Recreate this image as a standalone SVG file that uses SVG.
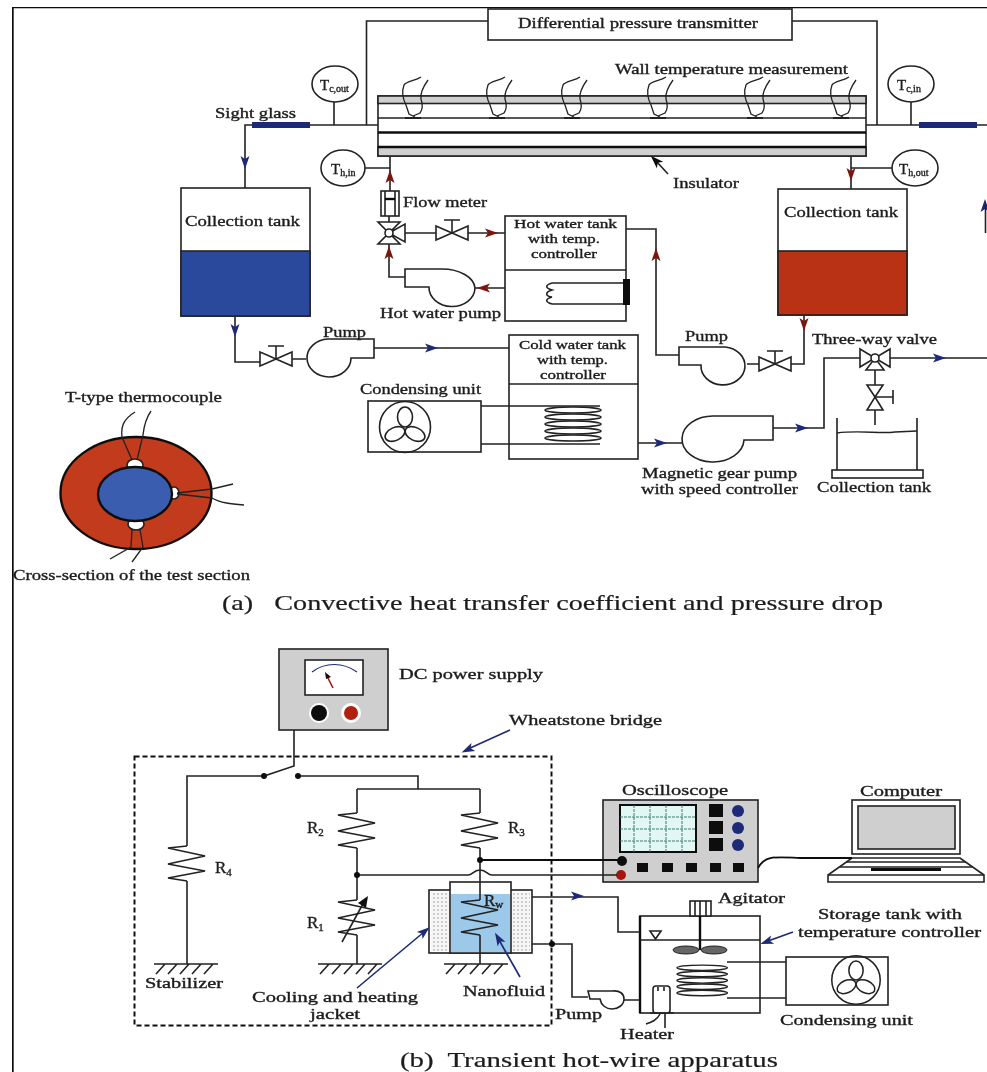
<svg xmlns="http://www.w3.org/2000/svg" width="987" height="1072" viewBox="0 0 987 1072">
<style>
text{font-family:"Liberation Serif","Times New Roman",serif;font-size:15px;fill:#1c1c1c;stroke:#1c1c1c;stroke-width:.35}
.cap{font-size:21px;stroke-width:.2}
.sm{font-size:13.5px}
.sub{font-size:10px}
.rl{font-size:17px}
.rs{font-size:11px}
.l{fill:none;stroke:#222;stroke-width:1.6}
.t{fill:none;stroke:#111;stroke-width:2.4}
.b{fill:#fff;stroke:#222;stroke-width:1.6}
.tt{fill:none;stroke:#222;stroke-width:1.3}
.gray{fill:#cfcfcf;stroke:#222;stroke-width:1.6}
.blue{fill:#2b4a9c}.red{fill:#a5180f}.nv{fill:#1c2a78}.dk{fill:#111}
.ha{fill:#7a1410}.ba{fill:#1c2a78}
</style>
<defs>
<filter id="soft" x="0" y="0" width="100%" height="100%"><feGaussianBlur stdDeviation="0.45"/></filter>
<pattern id="dots" width="4" height="4" patternUnits="userSpaceOnUse"><rect width="4" height="4" fill="#f6f6f6"/><circle cx="2" cy="2" r=".8" fill="#999"/></pattern>
<path id="ah" d="M-7,-4.500 L6,0 L-7,4.500 L-4,0Z"/>
<g id="valve" class="l"><path class="b" d="M-16,-7 L0,0 L-16,7Z M16,-7 L0,0 L16,7Z"/><path d="M0,0 V-13 M-8,-13 H8"/></g>
<g id="fan" class="l"><circle r="25.500"/><ellipse cy="-10" rx="7.500" ry="10"/><ellipse cx="-10" cy="7" rx="10.500" ry="6.500" transform="rotate(-25 -10 7)"/><ellipse cx="10" cy="7" rx="10.500" ry="6.500" transform="rotate(25 10 7)"/></g>
<path id="zig" class="l" d="M0,0 L-19,2 L18,10 L-19,18 L18,25 L-19,32 L0,35"/>
<g id="gnd" class="tt"><path stroke-width="1.600" d="M-32,0 H32 M-30,10 L-21,0 M-18,10 L-9,0 M-6,10 L3,0 M6,10 L15,0 M18,10 L27,0"/></g>
<g id="tc" class="tt"><path d="M8,-40 C2,-36 -6,-36 -9,-32 C-12,-24 -10,-18 -7,-12 L-4,-3 L2,0 M15,-37 C10,-30 7,-24 8,-18 C10,-12 10,-8 7,-4 L0,-1"/><path d="M-8,1 H8" stroke-width="2"/></g>
<g id="coil" class="l" stroke-width="1.300"><ellipse cx="28" cy="2" rx="28" ry="3"/><ellipse cx="28" cy="9" rx="28" ry="3"/><ellipse cx="28" cy="16" rx="28" ry="3"/><ellipse cx="28" cy="23" rx="28" ry="3"/><ellipse cx="28" cy="30" rx="28" ry="3"/></g>
</defs>
<rect width="987" height="1072" fill="#fff"/>
<g filter="url(#soft)">
<path id="frame" d="M12,7 H987 M12.500,7 V1072" fill="none" stroke="#111" stroke-width="2.400"/>

<g id="diff-transmitter"><rect class="b" x="488" y="9" width="304" height="31"/><text x="518" y="28" textLength="240" lengthAdjust="spacingAndGlyphs">Differential pressure transmitter</text></g>

<g id="test-section">
<rect class="b" x="378" y="96" width="488" height="60"/>
<rect class="gray" x="378" y="96" width="488" height="7.500"/>
<rect class="gray" x="378" y="147" width="488" height="9"/>
<path class="l" d="M378,118 H866"/><path class="t" d="M378,132.500 H866 M378,147 H866"/>
<use href="#tc" transform="translate(413,117)"/><use href="#tc" transform="translate(497,117)"/><use href="#tc" transform="translate(572,117)"/><use href="#tc" transform="translate(658,117)"/><use href="#tc" transform="translate(755,117)"/><use href="#tc" transform="translate(841,117)"/>
<text x="615" y="74" textLength="233" lengthAdjust="spacingAndGlyphs">Wall temperature measurement</text>
<text x="673" y="188" textLength="66" lengthAdjust="spacingAndGlyphs">Insulator</text>
</g>

<g id="sight-glass-1"><rect class="nv" x="252" y="122" width="58" height="6"/><text x="215" y="118" textLength="81" lengthAdjust="spacingAndGlyphs">Sight glass</text></g>
<g id="sight-glass-2"><rect class="nv" x="919" y="122" width="58" height="6"/></g>

<g id="t-c-out"><ellipse class="b" cx="335" cy="84" rx="23" ry="18"/><text x="320" y="90">T<tspan class="sub" dy="2">c,out</tspan></text></g>
<g id="t-c-in"><ellipse class="b" cx="911" cy="84" rx="23" ry="18"/><text x="897" y="90">T<tspan class="sub" dy="2">c,in</tspan></text></g>
<g id="t-h-in"><ellipse class="b" cx="343" cy="168" rx="22" ry="18"/><text x="331" y="174">T<tspan class="sub" dy="2">h,in</tspan></text></g>
<g id="t-h-out"><ellipse class="b" cx="915" cy="168" rx="23" ry="18"/><text x="899" y="174">T<tspan class="sub" dy="2">h,out</tspan></text></g>

<g id="tank-left"><rect class="b" x="181" y="188" width="129" height="128"/><rect class="blue" x="181" y="251" width="129" height="65" stroke="#222" stroke-width="1.600"/><text x="185" y="226" textLength="115" lengthAdjust="spacingAndGlyphs">Collection tank</text></g>
<g id="tank-right"><rect class="b" x="778" y="189" width="129" height="126"/><rect fill="#b93116" x="778" y="251" width="129" height="64" stroke="#222" stroke-width="1.600"/><text x="784" y="217" textLength="114" lengthAdjust="spacingAndGlyphs">Collection tank</text></g>

<g id="flow-meter"><rect class="b" x="381" y="191" width="18" height="25"/><path class="l" d="M385,191 V216 M395,191 V216"/><path class="t" d="M385,199 H395"/><text x="403" y="207" textLength="84" lengthAdjust="spacingAndGlyphs">Flow meter</text></g>
<g id="three-way-hot"><path class="b" d="M378,222 H400 L389,233Z M378,244 H400 L389,233Z M405,224 V242 L389,233Z"/><circle class="b" cx="389" cy="233" r="4"/></g>
<use id="valve-hot" href="#valve" transform="translate(452,233)"/>
<g id="hot-tank"><rect class="b" x="505" y="216" width="121" height="105"/><path class="l" d="M505,270 H626"/><path class="l" d="M552,283 H624 M552,304 H624 M552,283 C545,285 545,288 552,290 C545,292 545,296 552,297 C545,299 545,302 552,304"/><rect class="dk" x="623" y="279" width="7" height="26"/><text class="sm" x="514" y="228" textLength="103" lengthAdjust="spacingAndGlyphs">Hot water tank</text><text class="sm" x="528" y="243" textLength="72" lengthAdjust="spacingAndGlyphs">with temp.</text><text class="sm" x="531" y="258" textLength="66" lengthAdjust="spacingAndGlyphs">controller</text></g>
<g id="hot-pump"><path class="b" d="M405,269 H442 A33,20 0 0 1 475,288 A23,19 0 0 1 429,287 H405Z"/><text x="380" y="318" textLength="121" lengthAdjust="spacingAndGlyphs">Hot water pump</text></g>

<use id="valve-cold" href="#valve" transform="translate(276,359)"/>
<g id="pump-left"><path class="b" d="M374,339 V358 H351 A22,19 0 1 1 328,339Z"/><text x="323" y="337" textLength="43" lengthAdjust="spacingAndGlyphs">Pump</text></g>
<g id="condensing-1"><rect class="b" x="368" y="401" width="113" height="51"/><use href="#fan" transform="translate(405,427)"/><text x="360" y="394" textLength="121" lengthAdjust="spacingAndGlyphs">Condensing unit</text></g>
<g id="cold-tank"><rect class="b" x="509" y="335" width="129" height="124"/><path class="l" d="M509,384 H638"/><use href="#coil" transform="translate(545,408)"/><text class="sm" x="519" y="349" textLength="107" lengthAdjust="spacingAndGlyphs">Cold water tank</text><text class="sm" x="537" y="364" textLength="71" lengthAdjust="spacingAndGlyphs">with temp.</text><text class="sm" x="540" y="379" textLength="66" lengthAdjust="spacingAndGlyphs">controller</text></g>
<g id="pump-right"><path class="b" d="M679,347 H725 A22,19 0 1 1 701,365 H679Z"/><text x="685" y="341" textLength="43" lengthAdjust="spacingAndGlyphs">Pump</text></g>
<use id="valve-right" href="#valve" transform="translate(775,364)"/>
<g id="mag-pump"><path class="b" d="M773,416 V440 H744 A31,23 0 1 1 714,416Z"/><text x="642" y="478" textLength="155" lengthAdjust="spacingAndGlyphs">Magnetic gear pump</text><text x="641" y="494" textLength="157" lengthAdjust="spacingAndGlyphs">with speed controller</text></g>
<g id="three-way-out"><path class="b" d="M860,349 L875,358 L860,367Z M890,349 L875,358 L890,367Z M866,370 H884 L875,358Z"/><circle class="b" cx="875" cy="358" r="4"/><text x="812" y="344" textLength="125" lengthAdjust="spacingAndGlyphs">Three-way valve</text></g>
<g id="valve-drain"><path class="b" d="M867,385 H883 L875,397Z M867,410 H883 L875,397Z"/><path class="l" d="M875,397 H893 M893,390 V404"/></g>
<g id="beaker"><path class="l" d="M837,418 V470 M917,418 V470"/><path class="tt" d="M837,433 C860,430 880,434 895,432 L917,431"/><rect class="b" x="832" y="470" width="91" height="8"/><text x="817" y="492" textLength="114" lengthAdjust="spacingAndGlyphs">Collection tank</text></g>

<g id="cross-section">
<ellipse cx="136" cy="493" rx="75.500" ry="56" fill="#c23a1a" stroke="#111" stroke-width="2.400"/>
<ellipse class="b" cx="135" cy="465" rx="8" ry="6"/><ellipse class="b" cx="136" cy="524" rx="8" ry="6"/><ellipse class="b" cx="174" cy="493" rx="5" ry="6"/>
<ellipse cx="135" cy="494" rx="37" ry="27" fill="#3a5db0" stroke="#111" stroke-width="2.400"/>
<path class="tt" d="M132,460 L122,437 C121,428 122,420 135,412 M137,460 L143,435 C144,426 146,418 151,411 M177,493 L212,489 L233,484 M177,494 L212,498 C220,503 232,504 244,505 M132,530 L131,547 L110,559 M140,530 L143,547 L132,562"/>
<text x="65" y="402" textLength="157" lengthAdjust="spacingAndGlyphs">T-type thermocouple</text>
<text x="13" y="580" textLength="237" lengthAdjust="spacingAndGlyphs">Cross-section of the test section</text>
</g>
<text id="caption-a" class="cap" x="222" y="610" textLength="661" lengthAdjust="spacingAndGlyphs" xml:space="preserve">(a)   Convective heat transfer coefficient and pressure drop</text>

<g id="dc-supply"><rect class="gray" x="279" y="649" width="109" height="81"/><rect class="b" x="305" y="660" width="58" height="35"/><path d="M312,672 C325,662 343,662 357,672" fill="none" stroke="#1c2a78" stroke-width="1.200"/><path d="M333,688 L327,676" stroke="#a5180f" stroke-width="1.600"/><path class="dk" d="M325,672 L331,677 L326,679Z"/><circle cx="319" cy="713" r="10" fill="#fff"/><circle class="dk" cx="319" cy="713" r="8"/><circle cx="351" cy="713" r="10" fill="#fff"/><circle fill="#b0200f" cx="351" cy="713" r="7"/><text x="399" y="679" textLength="144" lengthAdjust="spacingAndGlyphs">DC power supply</text></g>

<g id="wheatstone-bridge"><rect x="134.500" y="756.500" width="417" height="269" fill="none" stroke="#111" stroke-width="2" stroke-dasharray="5 3"/><text x="509" y="725" textLength="153" lengthAdjust="spacingAndGlyphs">Wheatstone bridge</text></g>

<g id="r4"><use href="#zig" transform="translate(187,846)"/><text class="rl" x="215" y="873">R<tspan class="rs" dy="3">4</tspan></text></g>
<g id="r2"><use href="#zig" transform="translate(357,813)"/><text class="rl" x="307" y="833">R<tspan class="rs" dy="3">2</tspan></text></g>
<g id="r3"><use href="#zig" transform="translate(480,813)"/><text class="rl" x="508" y="833">R<tspan class="rs" dy="3">3</tspan></text></g>
<g id="r1"><use href="#zig" transform="translate(357,900)"/><path class="l" d="M342,942 L364,902"/><path class="dk" d="M368,896 L366,908 L358,903Z"/><text class="rl" x="307" y="928">R<tspan class="rs" dy="3">1</tspan></text></g>
<use id="gnd-1" href="#gnd" transform="translate(186,964)"/><use id="gnd-2" href="#gnd" transform="translate(350,964)"/><use id="gnd-3" href="#gnd" transform="translate(476,964)"/>
<text id="stabilizer" x="145" y="988" textLength="78" lengthAdjust="spacingAndGlyphs">Stabilizer</text>
<g id="cooling-label"><text x="252" y="1002" textLength="166" lengthAdjust="spacingAndGlyphs">Cooling and heating</text><text x="310" y="1019" textLength="50" lengthAdjust="spacingAndGlyphs">jacket</text></g>
<g id="hot-wire-cell"><rect class="b" x="429" y="890" width="103" height="63"/><rect x="431" y="892" width="18" height="59" fill="url(#dots)"/><rect x="512" y="892" width="18" height="59" fill="url(#dots)"/><rect class="b" x="450" y="882" width="61" height="71"/><rect x="451" y="894" width="59" height="58" fill="#9cc8ea"/><path class="l" d="M480,882 V900 M480,935 V953"/><use href="#zig" transform="translate(480,900)"/><text class="rl" x="484" y="906">R<tspan class="rs" dy="2">w</tspan></text></g>
<text id="nanofluid" x="463" y="996" textLength="82" lengthAdjust="spacingAndGlyphs">Nanofluid</text>

<g id="oscilloscope"><rect class="gray" x="603" y="800" width="155" height="82"/><rect x="620" y="805" width="76" height="47" fill="#e2f6f3" stroke="#111" stroke-width="2"/><path d="M634,805 V852 M650,805 V852 M666,805 V852 M682,805 V852 M620,817 H696 M620,829 H696 M620,841 H696" stroke="#2f6f66" stroke-width=".9" stroke-dasharray="3 1"/>
<g class="dk"><rect x="709" y="804" width="14" height="13"/><rect x="709" y="821" width="14" height="13"/><rect x="709" y="838" width="14" height="13"/><rect x="637" y="863" width="11" height="9"/><rect x="662" y="863" width="11" height="9"/><rect x="686" y="863" width="11" height="9"/><rect x="710" y="863" width="11" height="9"/><rect x="733" y="863" width="11" height="9"/><circle cx="622" cy="861" r="5"/></g>
<g class="nv"><circle cx="738" cy="811" r="6"/><circle cx="738" cy="828" r="6"/><circle cx="738" cy="845" r="6"/></g><circle cx="621" cy="875" r="5" class="red"/><text x="622" y="795" textLength="106" lengthAdjust="spacingAndGlyphs">Oscilloscope</text></g>

<g id="computer"><rect class="b" x="852" y="800" width="108" height="54"/><rect class="gray" x="858" y="806" width="97" height="43"/><path class="b" d="M852,858 H960 L984,875 V882 H828 V875Z"/><path class="l" d="M828,875 H984 M846,862 H966 M840,867 H972"/><rect class="dk" x="871" y="868" width="70" height="3"/><text x="860" y="796" textLength="82" lengthAdjust="spacingAndGlyphs">Computer</text></g>

<g id="storage-tank"><rect class="b" x="640" y="916" width="120" height="97"/><path class="t" d="M640,916 V1013"/><path class="l" d="M640,940 H760"/><path class="b" d="M650,931 H661 L655.500,939Z"/>
<rect class="b" x="690" y="901" width="21" height="15"/><path class="l" d="M695,901 V916 M700,901 V916 M706,901 V916"/><path class="t" d="M700,916 V950"/><ellipse cx="686" cy="950" rx="13" ry="4" fill="#666" stroke="#222"/><ellipse cx="714" cy="950" rx="13" ry="4" fill="#666" stroke="#222"/>
<use href="#coil" transform="translate(677,966) scale(.9 .9)"/>
<rect class="b" x="653" y="986" width="17" height="27" rx="3"/><path class="l" d="M658,987 V991 M664,987 V991 M650,1013 H674 M660,1014 C657,1020 652,1022 646,1024 M665,1014 V1028"/>
<text x="718" y="903" textLength="67" lengthAdjust="spacingAndGlyphs">Agitator</text><text x="818" y="919" textLength="144" lengthAdjust="spacingAndGlyphs">Storage tank with</text><text x="798" y="937" textLength="183" lengthAdjust="spacingAndGlyphs">temperature controller</text><text x="620" y="1039" textLength="54" lengthAdjust="spacingAndGlyphs">Heater</text></g>

<g id="pump-b"><path class="b" d="M588,991 H612 C620,990 624,994 624,999 C624,1005 618,1009 612,1009 C606,1009 601,1005 600,999 H590Z"/><text x="555" y="1019" textLength="47" lengthAdjust="spacingAndGlyphs">Pump</text></g>
<g id="condensing-2"><rect class="b" x="786" y="957" width="102" height="48"/><use href="#fan" transform="translate(856,980) scale(.95)"/><text x="780" y="1025" textLength="133" lengthAdjust="spacingAndGlyphs">Condensing unit</text></g>
<text id="caption-b" class="cap" x="400" y="1067" textLength="378" lengthAdjust="spacingAndGlyphs" xml:space="preserve">(b)  Transient hot-wire apparatus</text>

<g id="connectors">
<path class="l" d="M488,21 H366.500 V125 M792,21 H877 V125"/>
<path class="l" d="M378,125 H310 M252,125 H245 V188 M334,102 V125 M866,125 H919 M977,125 H987 M911,102 V125"/>
<path class="l" d="M390,156 V191 M365,168 H390 M851,156 V189 M851,168 H892"/>
<path class="l" d="M389,216 V222 M405,233 H436 M468,233 H505 M389,244 V277 H405 M475,288 H505"/>
<path class="l" d="M235,316 V362 H260 M292,359 H306 M374,348 H509"/>
<path class="l" d="M626,229 H656 V355 H679 M747,364 H759 M791,364 H804 V316"/>
<path class="l" d="M638,443 H683 M773,428 H824 V358 H860 M890,358 H987 M875,370 V385 M875,410 V425"/>
<path class="l" d="M294,730 V766 L264,776 M264,776 H187 V846 M187,881 V964 M298,776 H418 V789 M357,789 H480 M357,789 V813 M357,848 V900 M357,935 V964 M480,789 V813 M480,848 V882 M480,953 V964"/>
<path class="t" style="stroke-width:2" d="M480,860 H620"/>
<path class="l" d="M357,875 H468 C473,875 473,870 480,870 C487,870 487,875 492,875 H617"/>
<path class="l" d="M532,897 H618 V932 H640 M532,944 H572 V997 H588 M624,1000 H640"/>
<path class="t" style="stroke-width:1.800" d="M758,868 C765,855 775,857 800,858 H852"/>
<path class="l" d="M481,406 H600 M481,444 H600 M727,962 H786 M727,998 H786"/>
<use href="#ah" class="ba" transform="translate(245,163) rotate(90)"/>
<use href="#ah" class="ba" transform="translate(235,331) rotate(90)"/>
<use href="#ah" class="ba" transform="translate(432,348)"/>
<use href="#ah" class="ba" transform="translate(661,443)"/>
<use href="#ah" class="ba" transform="translate(802,428)"/>
<use href="#ah" class="ba" transform="translate(940,358)"/>
<use href="#ah" class="ba" transform="translate(985,205) rotate(-90)"/>
<path class="l" d="M985.500,205 V233"/>
<use href="#ah" class="ba" transform="translate(578,896)"/>
<use href="#ah" class="ha" transform="translate(390,176) rotate(-90)"/>
<use href="#ah" class="ha" transform="translate(389,252) rotate(-90)"/>
<use href="#ah" class="ha" transform="translate(492,233)"/>
<use href="#ah" class="ha" transform="translate(483,288) rotate(180)"/>
<use href="#ah" class="ha" transform="translate(656,254) rotate(-90)"/>
<use href="#ah" class="ha" transform="translate(851,175) rotate(90)"/>
<use href="#ah" class="ha" transform="translate(804,325) rotate(90)"/>
<path class="l" d="M668,174 L656,161"/><use href="#ah" class="dk" transform="translate(655,160) rotate(-135)"/>
<path class="l" d="M510,730 L468,749" style="stroke:#1c2a78"/><use href="#ah" class="ba" transform="translate(467,750) rotate(155)"/>
<path class="l" d="M357,988 L424,932" style="stroke:#1c2a78"/><use href="#ah" class="ba" transform="translate(425,931) rotate(-40)"/>
<path class="l" d="M520,977 L499,940" style="stroke:#1c2a78"/><use href="#ah" class="ba" transform="translate(498,938) rotate(-120)"/>
<path class="l" d="M793,932 L768,941" style="stroke:#1c2a78"/><use href="#ah" class="ba" transform="translate(766,942) rotate(160)"/>
<circle class="dk" cx="264" cy="776" r="3"/><circle class="dk" cx="298" cy="776" r="3"/><circle class="dk" cx="480" cy="860" r="3"/><circle class="dk" cx="357" cy="875" r="3"/><circle class="dk" cx="552" cy="944" r="3"/>
</g>
</g>
</svg>
